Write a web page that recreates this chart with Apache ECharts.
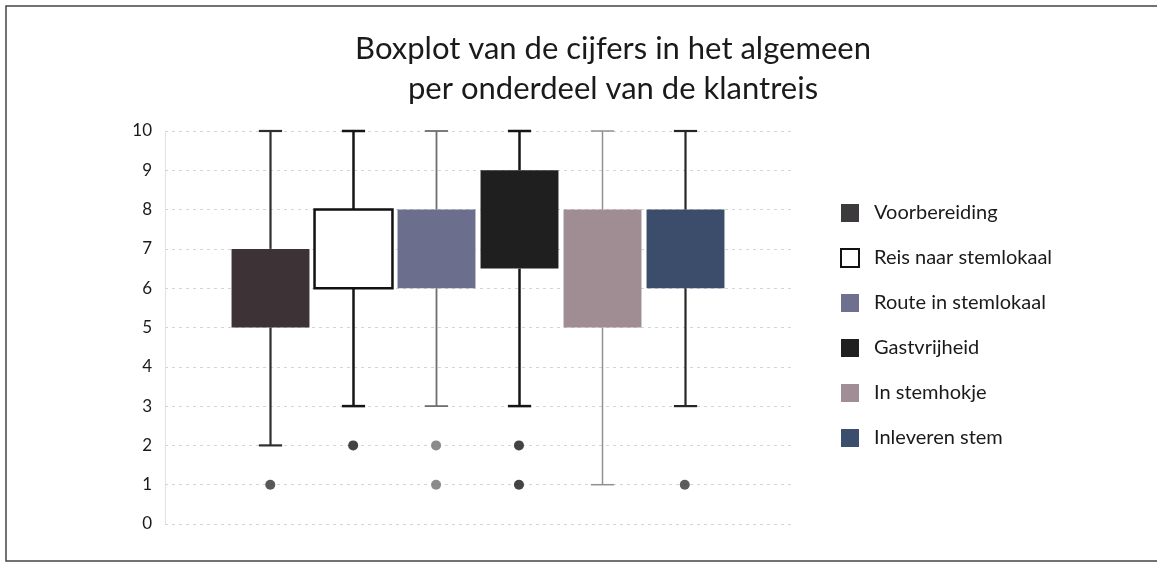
<!DOCTYPE html>
<html>
<head>
<meta charset="utf-8">
<script src="https://cdn.jsdelivr.net/npm/echarts@6/dist/echarts.min.js"></script>
<style>
html,body{margin:0;padding:0;background:#fff;}
#chart{width:1157px;height:564px;}
</style>
</head>
<body>
<div id="chart"></div>
<script>
// ---- data ----
var categories = ['Voorbereiding', 'Reis naar stemlokaal', 'Route in stemlokaal', 'Gastvrijheid', 'In stemhokje', 'Inleveren stem'];
var minVals = [2, 3, 3, 3, 1, 3];
var q1Vals = [5, 6, 6, 6.5, 5, 6];
var q3Vals = [7, 8, 8, 9, 8, 8];
var maxVals = [10, 10, 10, 10, 10, 10];
var outlierVals = [[1], [2], [2, 1], [2, 1], [], [1]];
var yTicks = [0, 1, 2, 3, 4, 5, 6, 7, 8, 9, 10];

// ---- styles ----
var fills = ['#3d3236', '#ffffff', '#6b6f8d', '#1f1f20', '#a08d93', '#3b4d6b'];
var boxStroke = ['#3d3236', '#111111', '#6b6f8d', '#1f1f20', '#a08d93', '#3b4d6b'];
var whiskerColors = ['#2e2e2e', '#151515', '#6e6e6e', '#151515', '#909090', '#262626'];
var whiskerWidths = [2.2, 2.5, 1.8, 2.5, 1.5, 2.2];
var dotColors = ['#2f2f2f', '#151515', '#6f6f6f', '#151515', '#888888', '#333333'];
var legendIcon = ['#3c3a3d', '#ffffff', '#6f7090', '#202020', '#a08d96', '#3b4e6e'];

var chart = echarts.init(document.getElementById('chart'), null, {renderer: 'canvas'});

var series = [];
categories.forEach(function (name, i) {
  series.push({
    name: name,
    type: 'custom',
    xAxisIndex: 0,
    yAxisIndex: 0,
    itemStyle: {color: legendIcon[i], borderColor: i === 1 ? '#111' : legendIcon[i], borderWidth: i === 1 ? 2 : 0},
    encode: {x: 0, y: [1, 2, 3, 4]},
    data: [[i + 1, minVals[i], q1Vals[i], q3Vals[i], maxVals[i]]],
    renderItem: function (params, api) {
      var x = api.value(0);
      var pMin = api.coord([x, api.value(1)]);
      var pQ1 = api.coord([x, api.value(2)]);
      var pQ3 = api.coord([x, api.value(3)]);
      var pMax = api.coord([x, api.value(4)]);
      var bw = api.size([0.94, 0])[0];
      var cw = api.size([0.28, 0])[0];
      var cx = Math.round(pQ1[0]) + 0.5;
      var ws = {stroke: whiskerColors[i], lineWidth: whiskerWidths[i]};
      var sw = i === 1 ? 2.5 : 0;
      return {
        type: 'group',
        children: [
          {type: 'line', shape: {x1: cx, y1: pMax[1], x2: cx, y2: pQ3[1]}, style: ws},
          {type: 'line', shape: {x1: cx, y1: pQ1[1], x2: cx, y2: pMin[1]}, style: ws},
          {type: 'line', shape: {x1: cx - cw / 2, y1: pMax[1], x2: cx + cw / 2, y2: pMax[1]}, style: ws},
          {type: 'line', shape: {x1: cx - cw / 2, y1: pMin[1], x2: cx + cw / 2, y2: pMin[1]}, style: ws},
          {type: 'rect', shape: {x: cx - bw / 2, y: pQ3[1], width: bw, height: pQ1[1] - pQ3[1]},
           style: {fill: fills[i], stroke: sw ? boxStroke[i] : null, lineWidth: sw}}
        ]
      };
    }
  });
  var pts = outlierVals[i].map(function (v) { return [i + 1, v]; });
  series.push({
    name: 'outliers' + i,
    type: 'scatter',
    symbol: 'circle',
    symbolSize: 10,
    itemStyle: {color: dotColors[i]},
    data: pts,
    silent: true,
    z: 3
  });
});

var option = {
  backgroundColor: '#ffffff',
  animation: false,
  title: {
    text: 'Boxplot van de cijfers in het algemeen\nper onderdeel van de klantreis',
    left: 608,
    textAlign: 'center',
    top: 24,
    textStyle: {fontFamily: 'Lato', fontSize: 31, fontWeight: 'normal', color: '#1a1a1a', lineHeight: 40}
  },
  legend: {
    orient: 'vertical',
    left: 835,
    top: 198,
    itemWidth: 18,
    itemHeight: 18,
    itemGap: 25,
    icon: 'rect',
    textStyle: {fontFamily: 'Lato', fontSize: 20, lineHeight: 18, color: '#1a1a1a', padding: [0, 0, 0, 10]},
    data: categories.map(function (c, i) {
      return {name: c, itemStyle: {color: legendIcon[i], borderColor: i === 1 ? '#111' : legendIcon[i], borderWidth: i === 1 ? 2 : 0}};
    })
  },
  grid: {left: 165, right: 362, top: 131, bottom: 40},
  xAxis: {
    type: 'value',
    min: -0.27,
    max: 7.33,
    show: false
  },
  yAxis: {
    type: 'value',
    min: 0,
    max: 10,
    interval: 1,
    axisLine: {show: true, onZero: false, lineStyle: {color: '#dcdcdc', type: 'dotted', width: 1}},
    axisTick: {show: false},
    axisLabel: {fontFamily: 'Lato', fontSize: 17, color: '#1a1a1a', margin: 13,
      formatter: function (v) { return yTicks.indexOf(v) >= 0 ? String(v) : ''; }},
    splitLine: {show: true, lineStyle: {color: '#d4d4d4', type: [3, 4], width: 1}}
  },
  graphic: [{
    type: 'polyline',
    shape: {points: [[1157, 6], [6, 6], [6, 561], [1157, 561]]},
    style: {stroke: '#444', lineWidth: 1.5, fill: null},
    silent: true
  }],
  series: series
};
chart.setOption(option);
</script>
</body>
</html>
